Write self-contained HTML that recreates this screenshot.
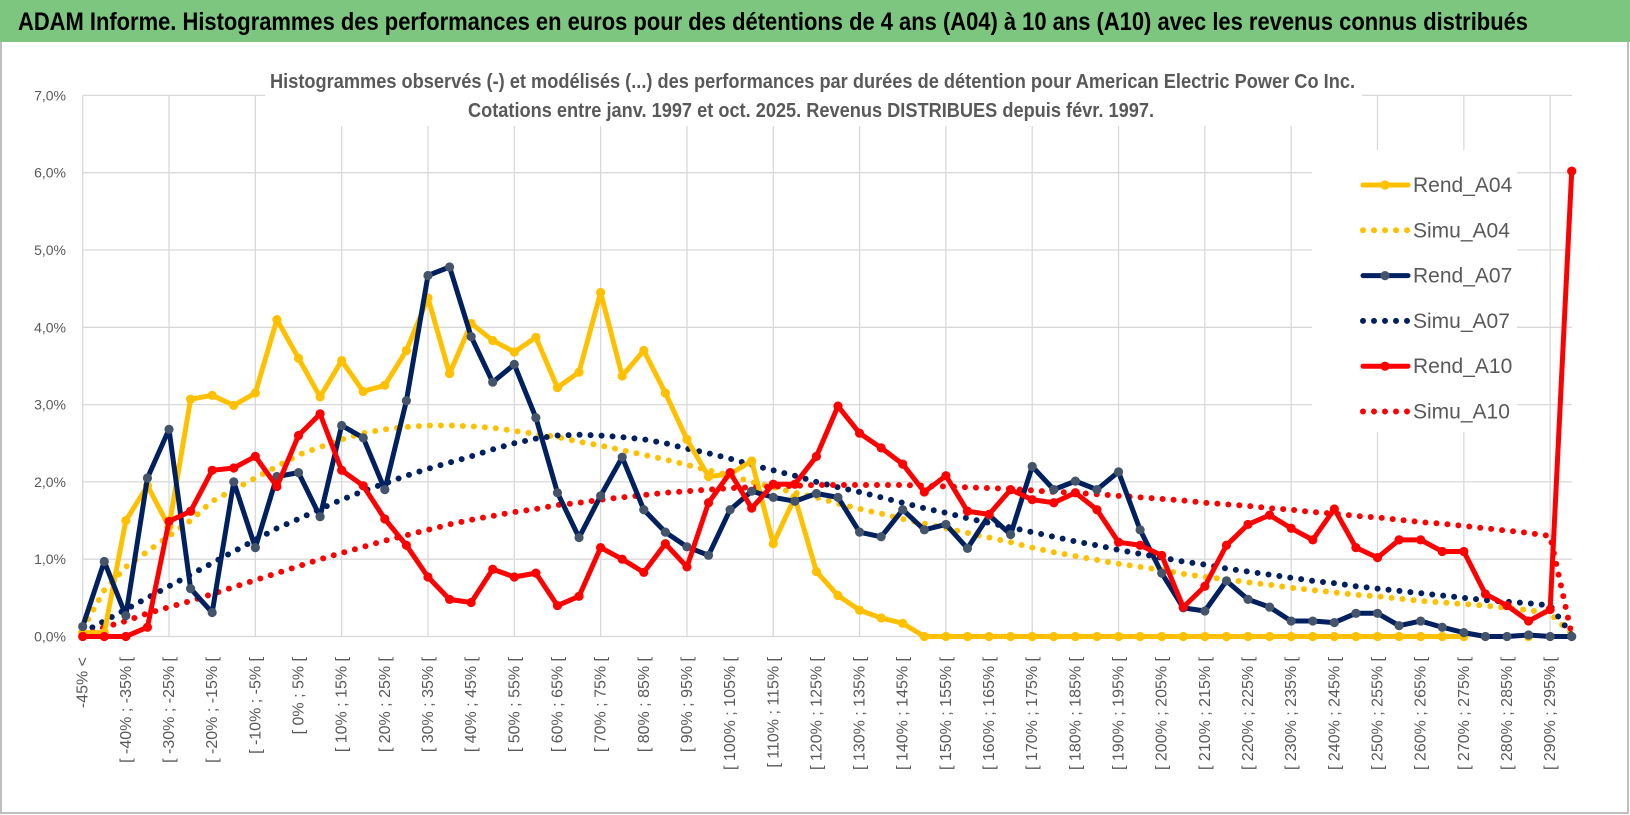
<!DOCTYPE html>
<html><head><meta charset="utf-8">
<style>
html,body{margin:0;padding:0;background:#fff;}
svg{display:block;font-family:"Liberation Sans Narrow","Liberation Sans",sans-serif;}
</style></head>
<body>
<svg id="chart" width="1630" height="815" viewBox="0 0 1630 815" xmlns="http://www.w3.org/2000/svg">
  <rect x="0" y="0" width="1630" height="815" fill="#fff"/>
  <rect x="1" y="1" width="1627" height="812" fill="none" stroke="#bfbfbf" stroke-width="2"/>
  <rect x="0" y="0" width="1630" height="42" fill="#7dc67f"/>
  <text x="18" y="30" font-size="25" font-weight="bold" fill="#000" textLength="1510" lengthAdjust="spacingAndGlyphs">ADAM Informe. Histogrammes des performances en euros pour des détentions de 4 ans (A04) à 10 ans (A10) avec les revenus connus distribués</text>
  <g id="grid"></g>
  <rect x="265" y="60" width="1097" height="66" fill="#fff"/>
  <text x="270" y="88" font-size="20" font-weight="bold" fill="#595959" textLength="1085" lengthAdjust="spacingAndGlyphs">Histogrammes observés (-) et modélisés (...) des performances par durées de détention pour American Electric Power Co Inc.</text>
  <text x="468" y="117" font-size="20" font-weight="bold" fill="#595959" textLength="686" lengthAdjust="spacingAndGlyphs">Cotations entre janv. 1997 et oct. 2025. Revenus DISTRIBUES depuis févr. 1997.</text>
  <g id="yaxis"></g>
  <g id="xaxis"></g>
  <g id="series"></g>
  <g id="legend"></g>
</svg>
<script>
const rendA04 = [0.05,0.05,1.5,1.95,1.42,3.07,3.12,2.99,3.15,4.1,3.6,3.1,3.57,3.17,3.25,3.7,4.38,3.4,4.05,3.83,3.68,3.87,3.22,3.42,4.45,3.37,3.7,3.15,2.55,2.07,2.1,2.27,1.2,1.8,0.84,0.53,0.34,0.24,0.17,0,0,0,0,0,0,0,0,0,0,0,0,0,0,0,0,0,0,0,0,0,0,0,0,0,0,null,null,0,null,null];
const simuA04 = [0.1,0.6,0.9,1.1,1.3,1.5,1.75,1.9,2.05,2.2,2.35,2.45,2.55,2.63,2.68,2.71,2.73,2.73,2.72,2.7,2.66,2.62,2.58,2.52,2.47,2.41,2.35,2.29,2.22,2.15,2.08,2.0,1.93,1.86,1.8,1.72,1.65,1.59,1.52,1.46,1.4,1.34,1.28,1.22,1.15,1.09,1.04,0.99,0.94,0.9,0.86,0.81,0.77,0.74,0.7,0.67,0.63,0.6,0.57,0.54,0.52,0.49,0.46,0.44,0.42,0.4,0.37,0.34,0.3,0.03];
const rendA07 = [0.13,0.97,0.27,2.05,2.68,0.62,0.31,2.0,1.15,2.07,2.12,1.55,2.73,2.57,1.9,3.05,4.67,4.78,3.88,3.29,3.52,2.83,1.86,1.28,1.82,2.32,1.64,1.35,1.16,1.05,1.64,1.88,1.8,1.75,1.85,1.8,1.35,1.29,1.64,1.38,1.45,1.14,1.57,1.32,2.2,1.9,2.01,1.9,2.13,1.38,0.82,0.37,0.33,0.72,0.48,0.38,0.2,0.2,0.18,0.3,0.3,0.14,0.2,0.12,0.05,0,0,0.02,0,0];
const simuA07 = [0.05,0.2,0.35,0.5,0.65,0.8,0.95,1.1,1.25,1.4,1.52,1.65,1.77,1.88,1.98,2.08,2.17,2.25,2.33,2.42,2.5,2.56,2.6,2.61,2.6,2.58,2.55,2.5,2.43,2.37,2.3,2.22,2.15,2.08,2.0,1.93,1.87,1.8,1.73,1.66,1.6,1.53,1.47,1.41,1.35,1.29,1.23,1.18,1.12,1.07,1.02,0.97,0.93,0.88,0.84,0.8,0.76,0.72,0.69,0.65,0.62,0.59,0.56,0.53,0.5,0.47,0.45,0.43,0.4,0.02];
const rendA10 = [0,0,0,0.12,1.49,1.62,2.15,2.18,2.33,1.94,2.6,2.88,2.15,1.95,1.52,1.18,0.77,0.48,0.44,0.87,0.77,0.82,0.4,0.52,1.15,1.0,0.83,1.2,0.9,1.73,2.12,1.66,1.97,1.97,2.33,2.98,2.63,2.44,2.23,1.87,2.08,1.62,1.58,1.9,1.77,1.73,1.86,1.64,1.22,1.18,1.05,0.38,0.65,1.18,1.45,1.57,1.4,1.25,1.65,1.15,1.02,1.25,1.25,1.1,1.1,0.55,0.4,0.2,0.35,6.02];
const simuA10 = [0,0.12,0.2,0.3,0.38,0.46,0.55,0.64,0.73,0.82,0.91,1.0,1.08,1.16,1.24,1.31,1.38,1.45,1.51,1.56,1.61,1.65,1.7,1.73,1.77,1.8,1.83,1.86,1.88,1.9,1.92,1.93,1.94,1.95,1.96,1.96,1.96,1.96,1.96,1.95,1.94,1.93,1.92,1.91,1.89,1.87,1.86,1.84,1.82,1.8,1.78,1.76,1.73,1.71,1.69,1.66,1.64,1.61,1.59,1.56,1.54,1.51,1.48,1.46,1.43,1.4,1.37,1.34,1.3,0.02];
const yTicks = [0,1,2,3,4,5,6,7];
const seriesNames = ["Rend_A04","Simu_A04","Rend_A07","Simu_A07","Rend_A10","Simu_A10"];

const NS = "http://www.w3.org/2000/svg";
const N = rendA04.length;
const X0 = 82.7, DX = 21.58, Y0 = 636.5, DY = 77.3;
function xs(i){ return X0 + i*DX; }
function ys(v){ return Y0 - v*DY; }
function mk(tag, attrs, parent){ const e=document.createElementNS(NS,tag); for(const k in attrs) e.setAttribute(k,attrs[k]); parent.appendChild(e); return e; }
function catLabel(i){ if(i===0) return "-45% <"; return "[ "+(-50+5*i)+"% ; "+(-45+5*i)+"% ["; }

const grid = document.getElementById('grid');
yTicks.forEach(t=>{
  const l = mk('line',{x1:X0,x2:1572,y1:ys(t),y2:ys(t),stroke:'#d9d9d9','stroke-width':1.3},grid);
  
  
});
for(let i=0;i<N;i+=4){
  const l = mk('line',{x1:xs(i),x2:xs(i),y1:ys(7),y2:Y0,stroke:'#d9d9d9','stroke-width':1.3},grid);
  
  
}

const ya = document.getElementById('yaxis');
yTicks.forEach(t=>{
  const tx = mk('text',{x:66,y:ys(t)+5,'text-anchor':'end','font-size':14,fill:'#595959'},ya);
  tx.textContent = t.toFixed(1).replace('.',',')+'%';
  
  
});

const xa = document.getElementById('xaxis');
for(let i=0;i<N-1;i+=2){
  const x = xs(i)+5, y = 657;
  const tx = mk('text',{x:x,y:y,'text-anchor':'end','font-size':16,fill:'#595959',transform:'rotate(-90 '+x+' '+y+')'},xa);
  tx.textContent = catLabel(i);
  
  
}

const sg = document.getElementById('series');
function segs(data){
  const out=[]; let cur=[];
  data.forEach((v,i)=>{ if(v===null){ if(cur.length) out.push(cur); cur=[]; } else cur.push([xs(i),ys(v)]); });
  if(cur.length) out.push(cur); return out;
}
function drawDotted(data,color,name){
  segs(data).forEach(s=>{
    const p = mk('polyline',{points:s.map(q=>q.join(',')).join(' '),fill:'none',stroke:color,'stroke-width':6,'stroke-linecap':'round','stroke-dasharray':'0 11'},sg);
    
    
  });
}
function drawSolid(data,color,mcolor,name){
  segs(data).forEach(s=>{
    const p = mk('polyline',{points:s.map(q=>q.join(',')).join(' '),fill:'none',stroke:color,'stroke-width':5,'stroke-linejoin':'round','stroke-linecap':'round'},sg);
    
    
  });
  data.forEach((v,i)=>{
    if(v===null) return;
    const c = mk('circle',{cx:xs(i),cy:ys(v),r:4.6,fill:mcolor},sg);
    
    
  });
}
drawDotted(simuA04,'#ffc000','simu-a04-line');
drawDotted(simuA07,'#002060','simu-a07-line');
drawDotted(simuA10,'#ff0000','simu-a10-line');
drawSolid(rendA04,'#ffc000','#ffc000','rend-a04-line');
drawSolid(rendA07,'#002060','#44546a','rend-a07-line');
drawSolid(rendA10,'#ff0000','#ff0000','rend-a10-line');

const lg = document.getElementById('legend');
const lbg = mk('rect',{x:1312,y:150,width:205,height:282,fill:'#fff'},lg);


const lcol = ['#ffc000','#ffc000','#002060','#002060','#ff0000','#ff0000'];
const lmk = ['#ffc000',null,'#44546a',null,'#ff0000',null];
seriesNames.forEach((n,j)=>{
  const cy = 185 + j*45.3;
  const g = mk('g',{},lg);
  
  
  if(j%2===0){
    mk('line',{x1:1363,x2:1408,y1:cy,y2:cy,stroke:lcol[j],'stroke-width':5,'stroke-linecap':'round'},g);
    mk('circle',{cx:1385,cy:cy,r:4.6,fill:lmk[j]},g);
  } else {
    mk('line',{x1:1363,x2:1408,y1:cy,y2:cy,stroke:lcol[j],'stroke-width':6,'stroke-linecap':'round','stroke-dasharray':'0 11'},g);
  }
  const t = mk('text',{x:1413,y:cy+7,'font-size':21,fill:'#595959'},g);
  t.textContent = n;
});
</script>
</body></html>
